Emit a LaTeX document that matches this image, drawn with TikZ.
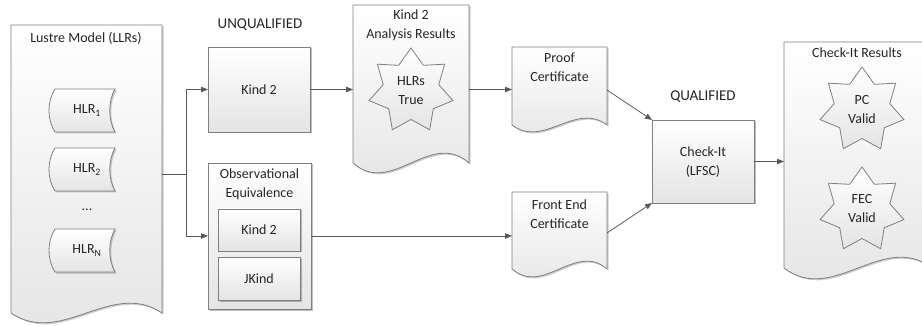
\documentclass[tikz,border=0pt]{standalone}
\usepackage{fontspec}
\setmainfont{Carlito}
\usetikzlibrary{arrows.meta,calc,shadows}
\definecolor{linec}{HTML}{595959}
\definecolor{edgec}{HTML}{7F7F7F}
\definecolor{txt}{HTML}{262626}
\definecolor{shadeb}{HTML}{E4E4E4}
\tikzset{
  frame/.style={draw=none, inner sep=0, outer sep=0},
  boxsh/.style={draw=edgec, line width=0.8pt, top color=white, bottom color=shadeb,
    drop shadow={shadow xshift=1.5pt, shadow yshift=-1.5pt, opacity=0.25, fill=black},
    inner sep=0, outer sep=0},
  doc/.style={draw=edgec, line width=0.8pt, top color=white, bottom color=shadeb,
    drop shadow={shadow xshift=1.5pt, shadow yshift=-1.5pt, opacity=0.2, fill=black}},
  starfill/.style={draw=edgec, line width=0.8pt, line join=miter, top color=white, bottom color=shadeb},
  conn/.style={draw=linec, line width=0.8pt},
  arr/.style={conn, -{Triangle[length=7pt,width=5.5pt]}},
  lbl/.style={font=\fontsize{14}{19}\selectfont, text=txt, align=center, inner sep=0},
  ttl/.style={font=\fontsize{15}{18}\selectfont, text=txt, inner sep=0},
}
\newcommand\docshape[2]{%
  \path[doc] (#1.north west) -- (#1.north east) -- (#1.south east)
    .. controls ($(#1.south east)!0.3333!(#1.south west)+(0,-3.4*#2)$)
    and ($(#1.south east)!0.6667!(#1.south west)+(0,3.4*#2)$) .. (#1.south west) -- cycle;}
\newcommand\hlrshape[1]{%
  \path[doc] (#1.north west) -- (#1.north east)
    .. controls ($(#1.north east)+(-7,12)$) and ($(#1.south east)+(-7,-12)$) .. (#1.south east)
    -- (#1.south west)
    .. controls ($(#1.south west)+(-8,-12)$) and ($(#1.north west)+(-8,12)$) .. (#1.north west) -- cycle;}
\newcommand\starshape[1]{%
  \path[starfill] ($(#1)+(-90:43)$)
    \foreach \k in {1,...,13}{ -- ($(#1)+({-90+\k*360/14}:{ifthenelse(mod(\k,2)==0,43,28.5)})$)} -- cycle;}
\begin{document}
\begin{tikzpicture}[x=1pt,y=-1pt]
\useasboundingbox (0,0) rectangle (922,326);
\clip (0,0) rectangle (922,326);
\fill[white] (0,0) rectangle (922,326);

% document frames
\node[frame, minimum width=151, minimum height=288] (lustre) at (86.5,169) {};
\node[frame, minimum width=116, minimum height=158] (analysis) at (411,84) {};
\node[frame, minimum width=95, minimum height=78] (proof) at (559.5,86) {};
\node[frame, minimum width=95, minimum height=77] (frontend) at (559.5,230.5) {};
\node[frame, minimum width=148, minimum height=226] (results) at (858,155) {};
\docshape{lustre}{10}
\docshape{analysis}{10}
\docshape{proof}{7}
\docshape{frontend}{8}
\docshape{results}{11}

% HLR stored data shapes
\node[frame, minimum width=60, minimum height=43] (hlr1) at (85,110.5) {};
\node[frame, minimum width=60, minimum height=43] (hlr2) at (85,169.5) {};
\node[frame, minimum width=60, minimum height=43] (hlrn) at (85,250.5) {};
\hlrshape{hlr1}
\hlrshape{hlr2}
\hlrshape{hlrn}
\node[lbl] (hlr1t) at (87,110.5) {HLR\textsubscript{1}};
\node[lbl] (hlr2t) at (87,169.5) {HLR\textsubscript{2}};
\node[lbl] (dots) at (87,210) {...};
\node[lbl] (hlrnt) at (87,250.5) {HLR\textsubscript{N}};
\node[lbl] (lustret) at (86,38) {Lustre Model (LLRs)};

% boxes
\node[boxsh, minimum width=102, minimum height=85] (kind2) at (259,89.5) {};
\node[lbl] (kind2t) at (259,89.5) {Kind 2};
\node[boxsh, minimum width=103, minimum height=146] (obs) at (259.5,236) {};
\node[lbl] (obst) at (259.5,184) {Observational\\Equivalence};
\node[boxsh, minimum width=82, minimum height=42] (obsk2) at (259,230) {};
\node[lbl] (obsk2t) at (259,230) {Kind 2};
\node[boxsh, minimum width=82, minimum height=43] (jkind) at (259,278.5) {};
\node[lbl] (jkindt) at (259,278.5) {JKind};
\node[boxsh, minimum width=102, minimum height=83] (checkit) at (703,161.5) {};
\node[lbl] (checkitt) at (703,162) {Check-It\\(LFSC)};

% titles
\node[ttl] (unq) at (260,25) {UNQUALIFIED};
\node[ttl] (qual) at (703,97) {QUALIFIED};
\node[lbl] (analysist) at (411,25) {Kind 2\\Analysis Results};
\node[lbl] (prooft) at (559.5,67.5) {Proof\\Certificate};
\node[lbl] (frontt) at (559.5,214) {Front End\\Certificate};
\node[lbl] (resultst) at (857,53) {Check-It Results};

% stars
\coordinate (s1) at (411,91);
\coordinate (s2) at (862,110);
\coordinate (s3) at (862,210);
\starshape{s1}
\starshape{s2}
\starshape{s3}
\node[lbl] (s1t) at (411,90.5) {HLRs\\True};
\node[lbl] (s2t) at (862,110) {PC\\Valid};
\node[lbl] (s3t) at (862,209) {FEC\\Valid};

% connectors
\coordinate (split) at (186,174);
\draw[conn] (lustre.east |- split) -- (split);
\draw[arr] (split) |- (kind2.west);
\draw[arr] (split) |- (obs.west);
\draw[arr] (kind2.east) -- (kind2.east -| analysis.west);
\draw[arr] (kind2.east -| analysis.east) -- (kind2.east -| proof.west);
\draw[arr] (obs.east) -- (obs.east -| frontend.west);
\draw[arr] ($(proof.east)+(0,4)$) -- (checkit.north west);
\draw[arr] ($(frontend.east)+(0,2.5)$) -- (checkit.south west);
\draw[arr] (checkit.east) -- (checkit.east -| results.west);
\end{tikzpicture}
\end{document}
